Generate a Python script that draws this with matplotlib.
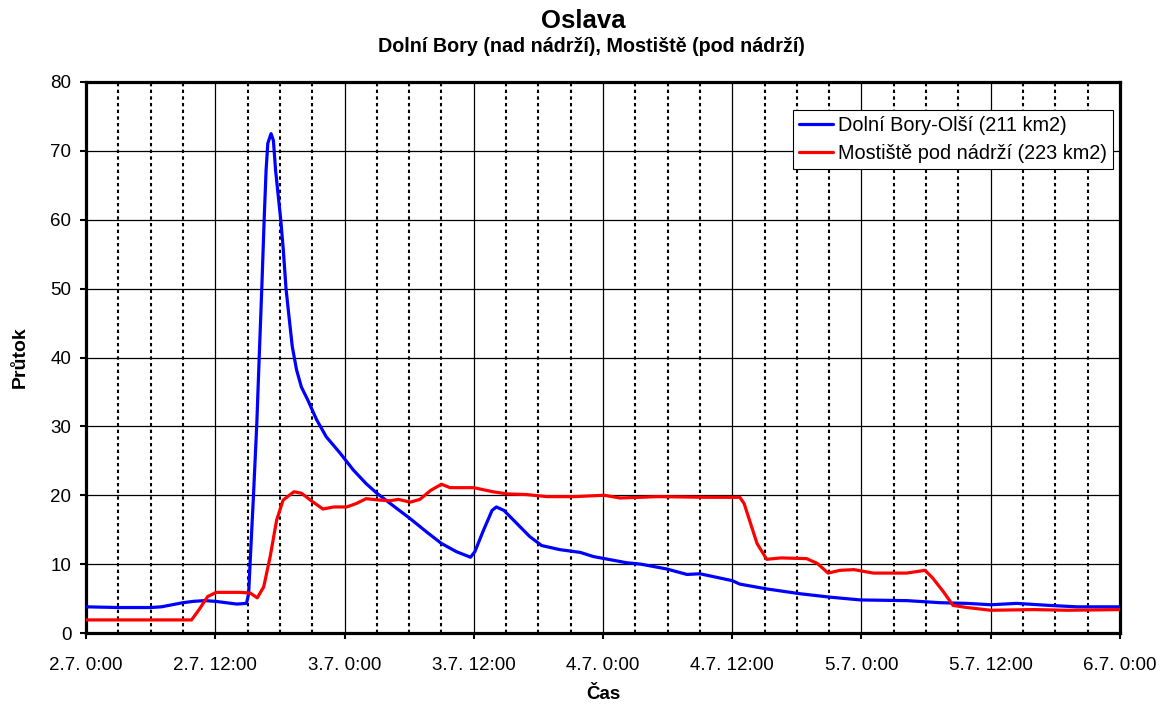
import matplotlib
matplotlib.use("Agg")
import matplotlib.pyplot as plt
from matplotlib.ticker import MultipleLocator

plt.rcParams["font.family"] = ["Liberation Sans", "DejaVu Sans"]

# Hours since 2.7. 0:00 and discharge (m3/s)
bory_hours = [0, 3, 6, 7, 8, 9, 10, 11, 12, 13, 14, 14.9, 15.1, 15.25, 15.55, 15.86,
              16.08, 16.32, 16.54, 16.72, 16.88, 17.18, 17.4, 17.6, 17.86, 18.08,
              18.32, 18.57, 18.85, 19.15, 19.55, 20.0, 20.6, 21.4, 22.3, 23.6, 24.8,
              26.0, 27.0, 28.5, 30.1, 31.6, 33, 34.4, 35.7, 36.1, 36.9, 37.7, 38.1,
              38.8, 40, 41.2, 42.3, 44, 45.9, 47.1, 50.2, 51.5, 53.9, 55.8, 57,
              60, 60.7, 63.2, 66.3, 69.1, 71.9, 76.2, 79.3, 81.8, 84, 86.4, 89.5,
              92, 96]
bory_flow = [3.8, 3.7, 3.7, 3.8, 4.1, 4.4, 4.6, 4.7, 4.6, 4.4, 4.2, 4.3, 5.7, 10.6,
             20, 30.5, 40, 50, 60, 67.2, 71.1, 72.5, 71.5, 67.2, 63.3, 60, 55.6,
             50, 45.9, 41.6, 38.2, 35.7, 33.8, 31.0, 28.5, 26.1, 23.7, 21.7, 20.3,
             18.5, 16.6, 14.7, 13.0, 11.8, 11.0, 11.8, 14.9, 17.8, 18.3, 17.8,
             15.9, 14.0, 12.7, 12.1, 11.7, 11.1, 10.2, 10.0, 9.3, 8.5, 8.6, 7.6,
             7.1, 6.4, 5.7, 5.2, 4.8, 4.7, 4.4, 4.3, 4.1, 4.3, 4.0, 3.8, 3.8]

mostiste_hours = [0, 5, 9.8, 10.5, 11.3, 12.1, 14.3, 15.25, 15.9, 16.5, 17.1, 17.7,
                  18.3, 19.3, 20.0, 21.0, 22.0, 23.0, 24.2, 25.1, 26.0, 27.3, 28.2,
                  29.0, 30.1, 31.0, 32, 33, 33.8, 36, 37.8, 39.1, 40.9, 42.8, 45.4,
                  48.1, 49.6, 53.1, 57.6, 60.7, 61.1, 61.7, 62.3, 63.2, 64.5, 66.9,
                  67.9, 68.9, 70, 71.3, 73.1, 76.2, 77.9, 78.6, 79.6, 80.5, 81.8, 84,
                  88, 91.1, 96]
mostiste_flow = [1.9, 1.9, 1.9, 3.4, 5.3, 5.9, 5.9, 5.8, 5.1, 6.7, 11.1, 16.4, 19.3,
                 20.5, 20.3, 19.1, 18.0, 18.3, 18.3, 18.8, 19.5, 19.3, 19.2, 19.4,
                 19.0, 19.4, 20.7, 21.6, 21.1, 21.1, 20.5, 20.2, 20.1, 19.8, 19.8,
                 20.0, 19.6, 19.8, 19.7, 19.7, 18.8, 15.9, 13.0, 10.7, 10.9, 10.8,
                 10.1, 8.7, 9.1, 9.2, 8.7, 8.7, 9.1, 8.0, 6.0, 4.0, 3.7, 3.3, 3.4,
                 3.3, 3.4]

x_tick_labels = ["2.7. 0:00", "2.7. 12:00", "3.7. 0:00", "3.7. 12:00", "4.7. 0:00",
                 "4.7. 12:00", "5.7. 0:00", "5.7. 12:00", "6.7. 0:00"]

fig = plt.figure(figsize=(11.61, 7.04), dpi=100)
ax = fig.add_axes([86 / 1161, 1 - 633 / 704, (1120 - 86) / 1161, (633 - 82) / 704])

ax.plot(bory_hours, bory_flow, color="#0000ff", lw=2.3, label="Dolní Bory-Olší (211 km2)",
        zorder=3, solid_joinstyle="round", solid_capstyle="round")
ax.plot(mostiste_hours, mostiste_flow, color="#ff0000", lw=2.3,
        label="Mostiště pod nádrží (223 km2)", zorder=3, solid_joinstyle="round",
        solid_capstyle="round")

ax.set_xlim(0, 96)
ax.set_ylim(0, 80)
ax.set_xticks(range(0, 97, 12))
ax.set_xticklabels(x_tick_labels)
ax.xaxis.set_minor_locator(MultipleLocator(3))
ax.yaxis.set_major_locator(MultipleLocator(10))

ax.grid(which="major", axis="both", color="black", lw=0.9, zorder=1)
ax.grid(which="minor", axis="x", color="black", lw=1.5, linestyle=(0, (1.6, 1.6)), zorder=1)

ax.tick_params(axis="both", which="major", direction="out", length=4.5, width=1.5,
               labelsize=13.5, color="black")
ax.tick_params(axis="x", which="major", pad=13)
ax.tick_params(axis="y", which="major", pad=6)
ax.tick_params(axis="x", which="minor", length=0)

for sp in ax.spines.values():
    sp.set_linewidth(2.3)
    sp.set_color("black")

ax.set_xlabel("Čas", fontsize=13.5, fontweight="bold")
ax.xaxis.set_label_coords(0.5, -0.097)
ax.set_ylabel("Průtok", fontsize=14, fontweight="bold")
ax.yaxis.set_label_coords(-0.055, 0.5)

fig.text(583 / 1161, 1 - 21 / 704, "Oslava", ha="center", va="center", fontsize=18.5,
         fontweight="bold")
fig.text(591 / 1161, 1 - 47 / 704, "Dolní Bory (nad nádrží), Mostiště (pod nádrží)",
         ha="center", va="center", fontsize=14.2, fontweight="bold")

leg = ax.legend(loc="upper right", bbox_to_anchor=((1113 - 86) / 1034, (633 - 110) / 551),
                fontsize=14.3, frameon=True, fancybox=False, edgecolor="black",
                framealpha=1, borderpad=0.3, labelspacing=0.45, handlelength=1.7,
                handletextpad=0.25, borderaxespad=0)
leg.get_frame().set_linewidth(0.8)

fig.savefig("out.png", dpi=100)
